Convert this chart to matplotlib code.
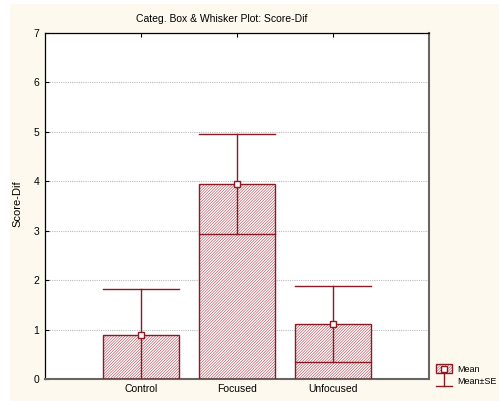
import matplotlib
matplotlib.use("Agg")
import matplotlib.pyplot as plt
from matplotlib.patches import Rectangle

categories = ["Control", "Focused", "Unfocused"]
means = [0.90, 3.95, 1.11]
ses = [0.92, 1.01, 0.77]
yticks = [0, 1, 2, 3, 4, 5, 6, 7]

plt.rcParams['font.family'] = ['Liberation Sans', 'DejaVu Sans']
plt.rcParams['hatch.linewidth'] = 0.45

RED = '#8B1A24'
HATCH = '#B8505C'
CREAM = '#FEF9EE'
HP = '/' * 12

W, H = 499, 401
fig = plt.figure(figsize=(W/100, H/100), dpi=100, facecolor='white')
fig.patches.append(Rectangle((10/W, 0), 1 - 10/W, 1 - 4/H, transform=fig.transFigure,
                             facecolor=CREAM, edgecolor='none', zorder=-10))

ax = fig.add_axes([45/W, 1 - 379/H, (429-45)/W, (379-33)/H])
ax.set_facecolor('white')
pos = [1, 2, 3]
bw = 0.8
for x, m, s in zip(pos, means, ses):
    ax.bar(x, m, width=bw, bottom=0, facecolor='white', edgecolor=HATCH,
           hatch=HP, linewidth=0, zorder=2)
    ax.bar(x, m, width=bw, bottom=0, facecolor='none', edgecolor=RED,
           linewidth=1.0, zorder=3)
    lo = max(m - s, 0.0)
    hi = m + s
    ax.plot([x - bw/2, x + bw/2], [lo, lo], color=RED, lw=1.0, zorder=4)
    ax.plot([x, x], [lo, hi], color=RED, lw=1.0, zorder=4)
    ax.plot([x - bw/2, x + bw/2], [hi, hi], color=RED, lw=1.0, zorder=4)
    ax.plot([x], [m], marker='s', ms=4, mfc='white', mec=RED, mew=1.0, zorder=5)

ax.set_xlim(0, 4)
ax.set_ylim(0, 7)
ax.set_yticks(yticks)
ax.set_xticks(pos)
ax.set_xticklabels(categories)
ax.yaxis.grid(True, color='#BBBBBB', linestyle=(0, (1, 1)), linewidth=0.8)
ax.set_axisbelow(True)
ax.tick_params(axis='both', direction='in', length=3, labelsize=7.5, width=0.8,
               top=True, colors='black')
ax.tick_params(axis='y', pad=4)
for sp in ['left', 'top']:
    ax.spines[sp].set_color('black')
    ax.spines[sp].set_linewidth(0.9)
for sp in ['right', 'bottom']:
    ax.spines[sp].set_color('#666666')
    ax.spines[sp].set_linewidth(1.5)
ax.set_ylabel('Score-Dif', fontsize=8)
ax.yaxis.set_label_coords((22 - 45) / 384, (379 - 204) / 346)
fig.text(222/W, 1 - 19/H, 'Categ. Box & Whisker Plot: Score-Dif', fontsize=7.5,
         ha='center', va='center')

# legend
lax = fig.add_axes([433/W, 1 - 390/H, 22/W, 28/H])
lax.set_xlim(433, 455)
lax.set_ylim(390, 362)
lax.axis('off')
lax.add_patch(Rectangle((436, 364), 16, 9, facecolor='white', edgecolor=HATCH,
                        hatch=HP, linewidth=0))
lax.add_patch(Rectangle((436, 364), 16, 9, facecolor='none', edgecolor=RED, linewidth=1.0))
lax.plot([444], [368.5], marker='s', ms=4, mfc='white', mec=RED, mew=1.0)
lax.plot([444, 444], [373, 386], color=RED, lw=1.0)
lax.plot([436, 452], [386, 386], color=RED, lw=1.0)
fig.text(457/W, 1 - 369/H, 'Mean', fontsize=6.5, va='center', ha='left')
fig.text(457/W, 1 - 381/H, 'Mean±SE', fontsize=6.5, va='center', ha='left')

fig.savefig('out.png', dpi=100, facecolor=fig.get_facecolor())
